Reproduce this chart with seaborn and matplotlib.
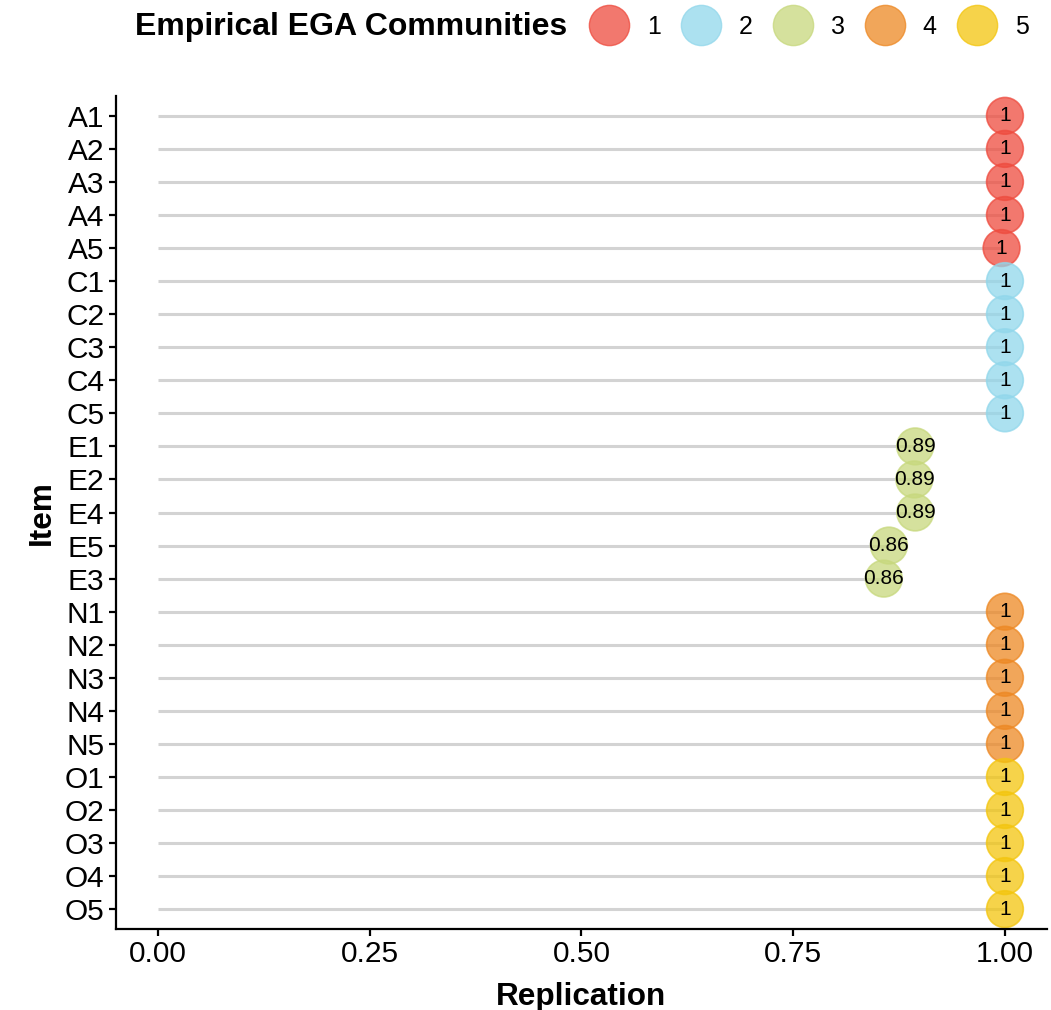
import numpy as np
import pandas as pd
import matplotlib
matplotlib.use("Agg")
import matplotlib.pyplot as plt
from matplotlib.lines import Line2D
import seaborn as sns

items = ["A1", "A2", "A3", "A4", "A5",
         "C1", "C2", "C3", "C4", "C5",
         "E1", "E2", "E4", "E5", "E3",
         "N1", "N2", "N3", "N4", "N5",
         "O1", "O2", "O3", "O4", "O5"]
replication = [1.0, 1.0, 1.0, 1.0, 0.996,
               1.0, 1.0, 1.0, 1.0, 1.0,
               0.894, 0.893, 0.894, 0.863, 0.857,
               1.0, 1.0, 1.0, 1.0, 1.0,
               1.0, 1.0, 1.0, 1.0, 1.0]
community = ["1"] * 5 + ["2"] * 5 + ["3"] * 5 + ["4"] * 5 + ["5"] * 5
community_levels = ["1", "2", "3", "4", "5"]
palette_colors = ["#EE4B3E", "#91D7EB", "#C7D87D", "#ED8823", "#F3C50D"]
x_ticks = [0.0, 0.25, 0.50, 0.75, 1.0]

df = pd.DataFrame({"Item": items, "Replication": replication, "Community": community})
palette = dict(zip(community_levels, palette_colors))

sns.set_theme(style="white")
plt.rcParams["font.family"] = ["Liberation Sans", "DejaVu Sans"]
plt.rcParams["text.color"] = "black"
plt.rcParams["axes.labelcolor"] = "black"

fig = plt.figure(figsize=(10.51, 10.10), dpi=100)
ax = fig.add_axes([115.6 / 1051, 1 - 929 / 1010, 931.7 / 1051, (929 - 96) / 1010])

# segments from 0 to value
ax.hlines(y=df["Item"], xmin=0, xmax=df["Replication"], color="#D3D3D3", linewidth=2.2, zorder=1)

sns.scatterplot(data=df, x="Replication", y="Item", hue="Community", hue_order=community_levels,
                palette=palette, s=700, alpha=0.75, linewidth=1.2, edgecolor=None, ax=ax,
                legend=False, zorder=2)
coll = ax.collections[-1]
coll.set_edgecolors(coll.get_facecolors())

for it, v in zip(df["Item"], df["Replication"]):
    lab = f"{round(v, 2):g}"
    ax.text(v, it, lab, ha="center", va="center", fontsize=15, color="black", zorder=3)

ax.set_xlim(-0.05, 1.05)
ax.set_ylim(len(items) - 1 + 0.6, -0.6)
ax.set_xticks(x_ticks)
ax.set_xticklabels([f"{t:.2f}" for t in x_ticks])

for side in ["top", "right"]:
    ax.spines[side].set_visible(False)
for side in ["left", "bottom"]:
    ax.spines[side].set_color("black")
    ax.spines[side].set_linewidth(1.6)
ax.tick_params(axis="both", which="major", direction="out", length=5, width=1.6,
               color="black", labelsize=21.5, labelcolor="black", left=True, bottom=True, pad=3)
ax.grid(False)

ax.set_xlabel("Replication", fontsize=22.7, fontweight="bold", labelpad=10, color="black")
ax.set_ylabel("Item", fontsize=22.7, fontweight="bold", labelpad=6, color="black")

# legend
fig.text(135 / 1051, 1 - 27 / 1010, "Empirical EGA Communities", fontsize=23, fontweight="bold",
         ha="left", va="center", color="black")
handles = [Line2D([], [], linestyle="none", marker="o", markersize=29,
                  markerfacecolor=matplotlib.colors.to_rgba(palette[c], 0.75),
                  markeredgecolor=matplotlib.colors.to_rgba(palette[c], 0.75))
           for c in community_levels]
leg = fig.legend(handles, community_levels, loc="center left", ncol=5, frameon=False,
                 bbox_to_anchor=(589 / 1051, 1 - 27 / 1010), fontsize=18,
                 handlelength=1.6, handletextpad=0.72, columnspacing=0.8, borderpad=0, borderaxespad=0)
for t in leg.get_texts():
    t.set_color("black")

fig.savefig("out.png", dpi=100)
